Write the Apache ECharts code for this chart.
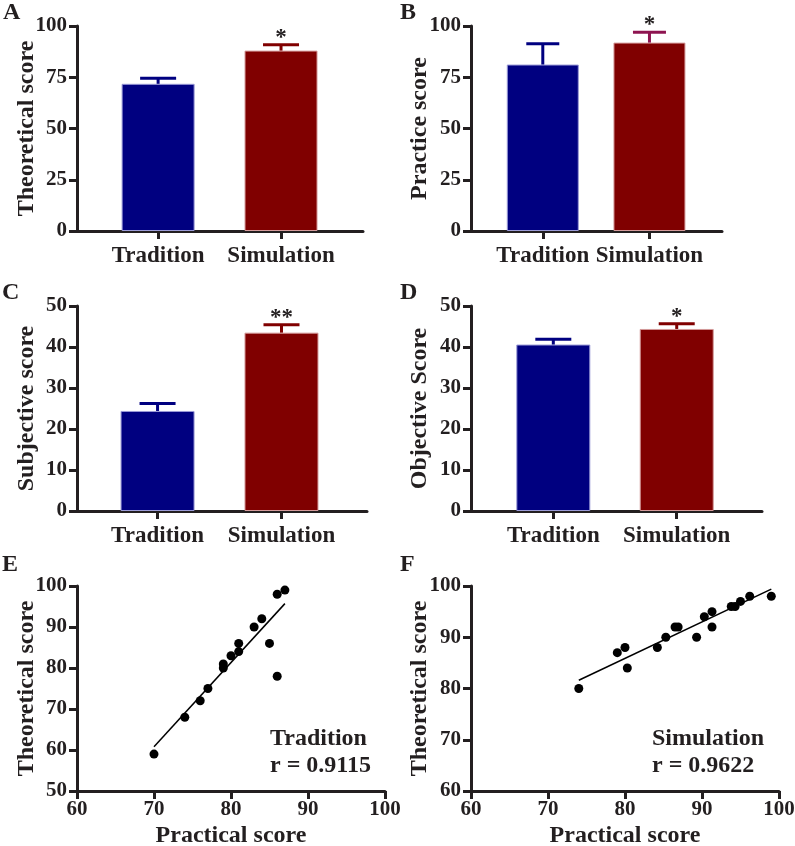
<!DOCTYPE html>
<html>
<head>
<meta charset="utf-8">
<script src="https://cdn.jsdelivr.net/npm/echarts@6/dist/echarts.min.js"></script>
<style>
  html, body { margin: 0; padding: 0; background: #fff; }
  #chart { width: 795px; height: 846px; }
</style>
</head>
<body>
<div id="chart"></div>
<script>
// groups on the bar panels
const groups = ['Tradition', 'Simulation'];

// A - theoretical score (mean, SEM)
const theoryMean = [71.8, 88.0];
const theoryErr = [2.7, 2.9];
const theorySig = ['', '*'];
// B - practice score
const practiceMean = [81.2, 91.9];
const practiceErr = [10.2, 5.0];
const practiceSig = ['', '*'];
// C - subjective score
const subjectiveMean = [24.4, 43.5];
const subjectiveErr = [1.8, 1.9];
const subjectiveSig = ['', '**'];
// D - objective score
const objectiveMean = [40.6, 44.4];
const objectiveErr = [1.3, 1.3];
const objectiveSig = ['', '*'];

// E - tradition group, practical vs theoretical
const tradPractical = [70, 74, 76, 77, 79, 79, 80, 81, 81, 83, 84, 85, 86, 86, 87];
const tradTheory    = [59, 68, 72, 75, 81, 80, 83, 86, 84, 90, 92, 86, 78, 98, 99];
const tradFitX = [70, 87];
const tradFitY = [60.8, 95.7];
// F - simulation group
const simPractical = [74, 79, 80, 80.3, 84.2, 85.3, 86.5, 86.9, 89.3, 90.3, 91.3, 91.3, 93.8, 94.3, 95, 96.2, 99];
const simTheory    = [80, 87, 88, 84, 88, 90, 92, 92, 90, 94, 95, 92, 96, 96, 97, 98, 98];
const simFitX = [74, 99];
const simFitY = [81.6, 99.4];

const ink = '#231f20';
const serif = '"Liberation Serif", "Times New Roman", serif';
const barColors = ['#000080', '#800000'];
const barEdges = ['#9a9ad6', '#d49a9a'];

let myChart = echarts.init(document.getElementById('chart'));

const grids = [
  { left: 77, top: 26, width: 286, height: 205 },
  { left: 471, top: 26, width: 251, height: 205 },
  { left: 77, top: 306, width: 290, height: 205 },
  { left: 471, top: 306, width: 291, height: 205 },
  { left: 77, top: 586, width: 308, height: 205 },
  { left: 471, top: 586, width: 308, height: 205 }
].map((g) => Object.assign({ outerBoundsMode: 'none', containLabel: false }, g));

const axisLine = { show: true, onZero: false, lineStyle: { color: ink, width: 3 } };
const axisTick = { show: true, length: 8, lineStyle: { color: ink, width: 3 } };
const tickFont = { color: ink, fontFamily: serif, fontWeight: 'bold', fontSize: 21 };
const nameFont = { color: ink, fontFamily: serif, fontWeight: 'bold', fontSize: 24 };

function groupAxis(idx, min, max) {
  return {
    type: 'value', gridIndex: idx, min: min, max: max,
    axisLine: axisLine,
    axisTick: Object.assign({ customValues: [1, 2] }, axisTick),
    axisLabel: {
      customValues: [1, 2], margin: 14,
      formatter: (v) => groups[Math.round(v) - 1],
      color: ink, fontFamily: serif, fontWeight: 'bold', fontSize: 23
    },
    splitLine: { show: false }
  };
}

function scoreAxis(idx, min, max, interval, name, gap) {
  return {
    type: 'value', gridIndex: idx, min: min, max: max, interval: interval,
    name: name, nameLocation: 'middle', nameGap: gap, nameMoveOverlap: false,
    nameTextStyle: nameFont,
    axisLine: axisLine, axisTick: axisTick,
    axisLabel: Object.assign({ margin: 10 }, tickFont),
    splitLine: { show: false }
  };
}

function scatterXAxis(idx) {
  return {
    type: 'value', gridIndex: idx, min: 60, max: 100, interval: 10,
    name: 'Practical score', nameLocation: 'middle', nameGap: 33, nameMoveOverlap: false,
    nameTextStyle: nameFont,
    axisLine: axisLine, axisTick: axisTick,
    axisLabel: Object.assign({ margin: 8 }, tickFont),
    splitLine: { show: false }
  };
}

function barSeries(idx, means, w) {
  return {
    type: 'bar', xAxisIndex: idx, yAxisIndex: idx, barWidth: w, z: 2,
    data: means.map((m, i) => ({
      value: [i + 1, m],
      itemStyle: { color: barColors[i], borderColor: barEdges[i], borderWidth: 1 }
    }))
  };
}

function errorSeries(idx, means, errs, sig, colors, capW) {
  return {
    type: 'custom', xAxisIndex: idx, yAxisIndex: idx, z: 3,
    data: means.map((m, i) => [i + 1, m, m + errs[i]]),
    renderItem(params, api) {
      const i = params.dataIndex;
      const base = api.coord([api.value(0), api.value(1)]);
      const top = api.coord([api.value(0), api.value(2)]);
      const c = colors[i];
      return {
        type: 'group',
        children: [
          { type: 'line', shape: { x1: top[0], y1: base[1], x2: top[0], y2: top[1] }, style: { stroke: c, lineWidth: 3 } },
          { type: 'line', shape: { x1: top[0] - capW / 2, y1: top[1], x2: top[0] + capW / 2, y2: top[1] }, style: { stroke: c, lineWidth: 3 } },
          {
            type: 'text', x: top[0], y: top[1] - 7,
            style: { text: sig[i], fill: ink, font: 'bold 23px ' + serif, align: 'center', verticalAlign: 'middle' }
          }
        ]
      };
    }
  };
}

function pointSeries(idx, xs, ys) {
  return {
    type: 'scatter', xAxisIndex: idx, yAxisIndex: idx, symbol: 'circle', symbolSize: 9,
    itemStyle: { color: '#000', opacity: 1 },
    data: xs.map((x, i) => [x, ys[i]])
  };
}

function fitSeries(idx, xs, ys) {
  return {
    type: 'line', xAxisIndex: idx, yAxisIndex: idx, showSymbol: false, silent: true,
    lineStyle: { color: '#000', width: 1.5 },
    data: xs.map((x, i) => [x, ys[i]])
  };
}

function txt(text, x, y, size) {
  return {
    type: 'text', left: x, top: y,
    style: { text: text, fill: ink, font: 'bold ' + size + 'px ' + serif }
  };
}

const option = {
  animation: false,
  backgroundColor: '#fff',
  grid: grids,
  xAxis: [
    groupAxis(0, 0.34, 2.667),
    groupAxis(1, 0.327, 2.68),
    groupAxis(2, 0.35, 2.69),
    groupAxis(3, 0.333, 2.691),
    scatterXAxis(4),
    scatterXAxis(5)
  ],
  yAxis: [
    scoreAxis(0, 0, 100, 25, 'Theoretical score', 38),
    scoreAxis(1, 0, 100, 25, 'Practice score', 39),
    scoreAxis(2, 0, 50, 10, 'Subjective score', 38),
    scoreAxis(3, 0, 50, 10, 'Objective Score', 39),
    scoreAxis(4, 50, 100, 10, 'Theoretical score', 38),
    scoreAxis(5, 60, 100, 10, 'Theoretical score', 39)
  ],
  series: [
    barSeries(0, theoryMean, 73),
    errorSeries(0, theoryMean, theoryErr, theorySig, barColors, 36),
    barSeries(1, practiceMean, 72),
    errorSeries(1, practiceMean, practiceErr, practiceSig, ['#000080', '#8e1450'], 33),
    barSeries(2, subjectiveMean, 74),
    errorSeries(2, subjectiveMean, subjectiveErr, subjectiveSig, barColors, 36),
    barSeries(3, objectiveMean, 74),
    errorSeries(3, objectiveMean, objectiveErr, objectiveSig, barColors, 36),
    pointSeries(4, tradPractical, tradTheory),
    fitSeries(4, tradFitX, tradFitY),
    pointSeries(5, simPractical, simTheory),
    fitSeries(5, simFitX, simFitY)
  ],
  graphic: [
    txt('A', 3, 1, 24),
    txt('B', 400, 1, 24),
    txt('C', 2, 281, 24),
    txt('D', 400, 281, 24),
    txt('E', 2, 553, 24),
    txt('F', 400, 553, 24),
    txt('Tradition', 270, 727, 24),
    txt('r = 0.9115', 270, 754, 24),
    txt('Simulation', 652, 727, 24),
    txt('r = 0.9622', 652, 754, 24)
  ]
};

myChart.setOption(option, true);
window.addEventListener('resize', () => {
  myChart.resize();
});
</script>
</body>
</html>
